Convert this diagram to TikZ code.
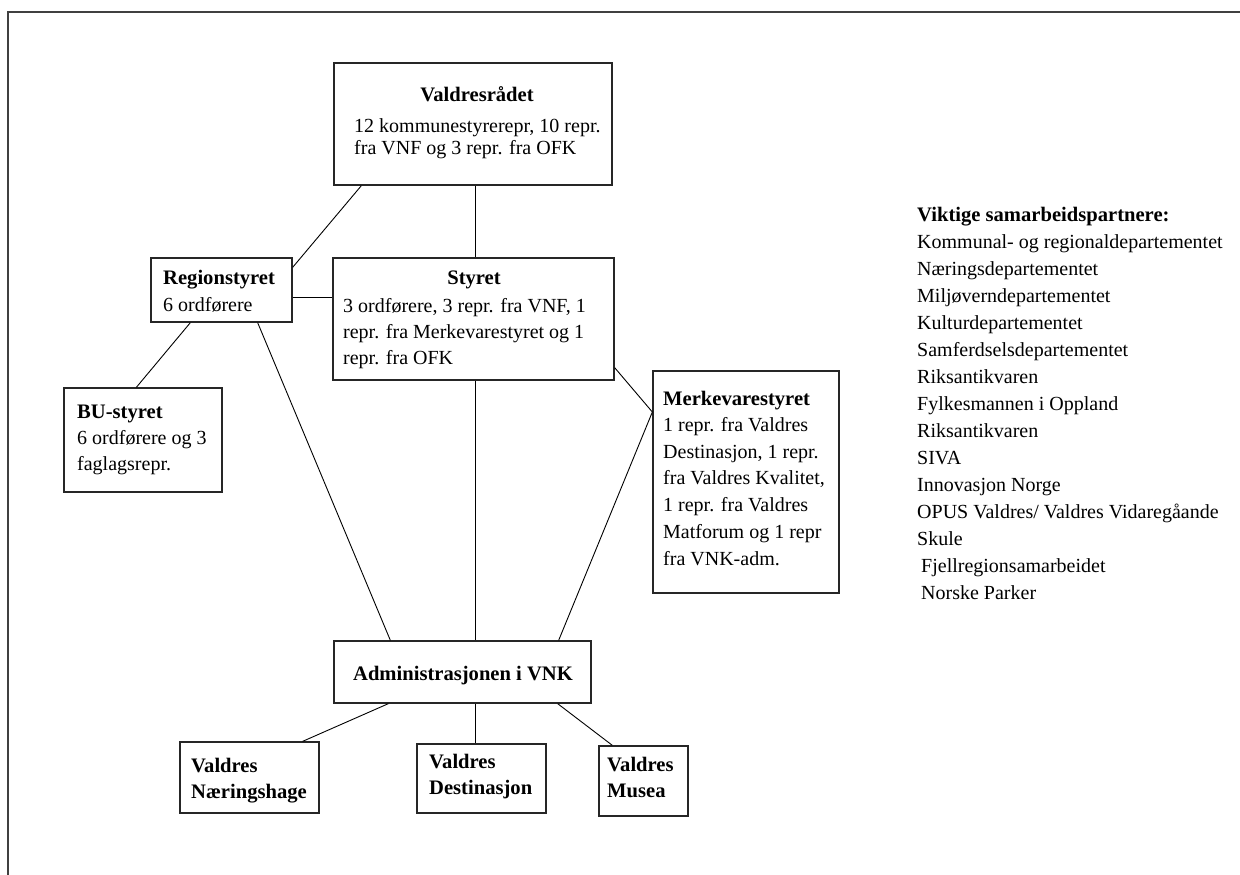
\documentclass[tikz,border=0pt]{standalone}
\usepackage{fontspec}
\setmainfont{Liberation Serif}
\usetikzlibrary{calc}
\begin{document}
\begin{tikzpicture}[x=1pt,y=-1pt,
  box/.style={draw=black!85, line width=1.3pt, rectangle, inner sep=0pt},
  txt/.style={inner sep=0pt, anchor=base west, align=left, font=\fontsize{20}{26.67}\selectfont},
  ttl/.style={txt, font=\bfseries\fontsize{20.6}{26.67}\selectfont},
  link/.style={draw=black, line width=0.9pt}]
\useasboundingbox (0,0) rectangle (1240,875);
% frame
\coordinate (tl) at (8,12); \coordinate (tr) at (1240,12); \coordinate (bl) at (8,875);
\draw[line width=2pt, black!75] (bl) -- (tl) -- (tr);
% boxes
\node[box, minimum width=278pt, minimum height=122pt] (vr) at (473,124) {};
\node[box, minimum width=141pt, minimum height=64pt] (reg) at (221.5,290) {};
\node[box, minimum width=281pt, minimum height=122pt] (sty) at (473.5,319) {};
\node[box, minimum width=158pt, minimum height=104pt] (bu) at (143,440) {};
\node[box, minimum width=186pt, minimum height=222pt] (merk) at (746,482) {};
\node[box, minimum width=257pt, minimum height=62pt] (adm) at (462.5,672) {};
\node[box, minimum width=139pt, minimum height=71pt] (nh) at (249.5,777.5) {};
\node[box, minimum width=129pt, minimum height=69pt] (dest) at (481.5,778.5) {};
\node[box, minimum width=89pt, minimum height=70pt] (mus) at (643.5,781) {};
% texts (multi-line nodes are placed by the baseline of their last line)
\node[ttl, anchor=base] (vrT) at (477,102) {Valdresrådet};
\node[txt, font=\fontsize{20}{21.7}\selectfont] (vrB) at (354,154.2) {12 kommunestyrerepr, 10 repr.\\fra VNF og 3 repr. fra OFK};
\node[ttl] (regT) at (163,284) {Regionstyret};
\node[txt] (regB) at (163,311) {6 ordførere};
\node[ttl, anchor=base] (styT) at (474,284) {Styret};
\node[txt, font=\fontsize{20}{26}\selectfont] (styB) at (343,364) {3 ordførere, 3 repr. fra VNF, 1\\repr. fra Merkevarestyret og 1\\repr. fra OFK};
\node[ttl] (buT) at (77,418) {BU-styret};
\node[txt, font=\fontsize{20}{26}\selectfont] (buB) at (77,470) {6 ordførere og 3\\faglagsrepr.};
\node[ttl] (merkT) at (663,405) {Merkevarestyret};
\node[txt] (merkB) at (663,565) {1 repr. fra Valdres\\Destinasjon, 1 repr.\\fra Valdres Kvalitet,\\1 repr. fra Valdres\\Matforum og 1 repr\\fra VNK-adm.};
\node[ttl, anchor=base] (admT) at (463,680) {Administrasjonen i VNK};
\node[ttl, font=\bfseries\fontsize{20.6}{26}\selectfont] (nhT) at (191,798) {Valdres\\Næringshage};
\node[ttl, font=\bfseries\fontsize{20.6}{26}\selectfont] (destT) at (429,794) {Valdres\\Destinasjon};
\node[ttl, font=\bfseries\fontsize{20.6}{26}\selectfont] (musT) at (607,797) {Valdres\\Musea};
\node[ttl] (listT) at (917,221) {Viktige samarbeidspartnere:};
\node[txt, font=\fontsize{20}{27}\selectfont] (listB) at (917,545) {Kommunal- og regionaldepartementet\\Næringsdepartementet\\Miljøverndepartementet\\Kulturdepartementet\\Samferdselsdepartementet\\Riksantikvaren\\Fylkesmannen i Oppland\\Riksantikvaren\\SIVA\\Innovasjon Norge\\OPUS Valdres/ Valdres Vidaregåande\\Skule};
\node[txt, font=\fontsize{20}{27}\selectfont] (listC) at (921,599) {Fjellregionsamarbeidet\\Norske Parker};
% connectors
\draw[link] ([xshift=28pt]vr.south west) -- ([yshift=-10pt]reg.north east);
\draw[link] ([xshift=2pt]vr.south) -- ([xshift=2pt]vr.south |- sty.north);
\draw[link] ([yshift=-7pt]reg.east) -- ([yshift=-7pt]reg.east -| sty.west);
\draw[link] ([xshift=40pt]reg.south west) -- ([xshift=73pt]bu.north west);
\draw[link] ([xshift=-35pt]reg.south east) -- ([xshift=57pt]adm.north west);
\draw[link] ([xshift=2pt]sty.south) -- ([xshift=2pt]sty.south |- adm.north);
\draw[link] ([yshift=13pt]sty.south east) -- ([yshift=70pt]merk.west);
\draw[link] ([xshift=-33pt]adm.north east) -- ([yshift=70pt]merk.west);
\draw[link] ([xshift=55pt]adm.south west) -- ([xshift=-17pt]nh.north east);
\draw[link] ([xshift=13pt]adm.south) -- ([xshift=13pt]adm.south |- dest.north);
\draw[link] ([xshift=-34pt]adm.south east) -- ([xshift=14pt]mus.north west);
\end{tikzpicture}
\end{document}
